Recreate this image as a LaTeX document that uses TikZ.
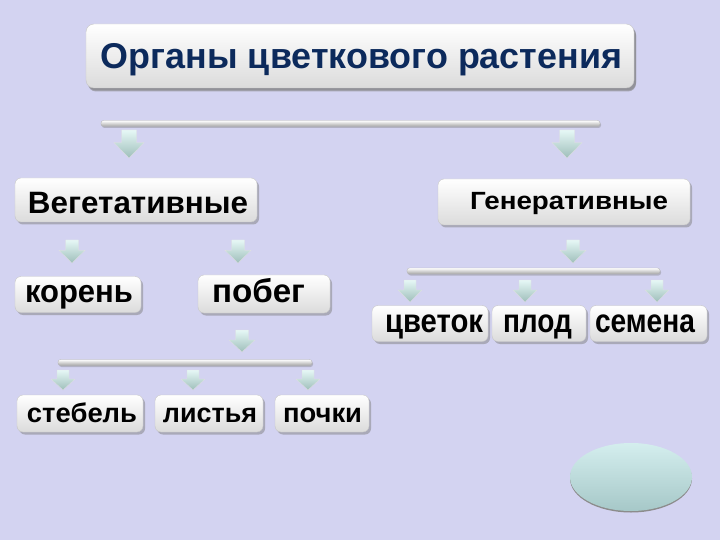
\documentclass[tikz,border=0pt]{standalone}
\usepackage{graphicx}
\usepackage{fontspec}
\setmainfont{Liberation Sans}
\usetikzlibrary{shadows}
\definecolor{bg}{RGB}{211,211,241}
\definecolor{navy}{RGB}{12,42,92}
\definecolor{arT}{RGB}{230,248,246}
\definecolor{arB}{RGB}{158,190,186}
\definecolor{elT}{RGB}{212,238,238}
\definecolor{elB}{RGB}{166,200,200}
\newcommand\fitw[2]{\resizebox{#1}{\height}{#2}}
\newcommand\dnarr[4]{%
  \path[arrowsty] ({#1-#4/2},#2) -- ({#1+#4/2},#2) -- ({#1+#4/2},{#2+(#3-#2)*0.45})
   -- ({#1+#4},{#2+(#3-#2)*0.45}) -- (#1,#3) -- ({#1-#4},{#2+(#3-#2)*0.45})
   -- ({#1-#4/2},{#2+(#3-#2)*0.45}) -- cycle;}
\begin{document}
\begin{tikzpicture}[x=1bp,y=-1bp,
  box/.style={rounded corners=6bp, draw=black!22, line width=0.4bp,
    top color=white, bottom color=black!14, inner sep=0pt,
    drop shadow={shadow xshift=2bp, shadow yshift=-2.5bp, opacity=0.5}},
  lbl/.style={anchor=base, inner sep=0pt, font=\bfseries},
  barsty/.style={rounded corners=2.5bp, draw=black!30, line width=0.3bp,
    top color=white, bottom color=black!35, inner sep=0pt, minimum height=6bp,
    drop shadow={shadow xshift=1bp, shadow yshift=-1.5bp, opacity=0.4}},
  arrowsty/.style={top color=arT, bottom color=arB, draw=black!12, line width=0.3bp}]
\useasboundingbox[fill=bg] (0,0) rectangle (720,540);

% boxes
\node[box, rounded corners=8bp, minimum width=548bp, minimum height=64bp,
  drop shadow={shadow xshift=2bp, shadow yshift=-3.5bp, opacity=0.55}]
  (title) at (360,56) {};
\node[box, minimum width=242bp, minimum height=44bp] (veg) at (136,200) {};
\node[box, minimum width=252bp, minimum height=46bp] (gen) at (564,202) {};
\node[box, minimum width=126bp, minimum height=36bp] (koren) at (78,294.5) {};
\node[box, minimum width=132bp, minimum height=38bp] (pobeg) at (264,294) {};
\node[box, minimum width=116bp, minimum height=36bp] (cvetok) at (430,323.5) {};
\node[box, minimum width=94bp, minimum height=36bp] (plod) at (539,323.5) {};
\node[box, minimum width=117bp, minimum height=36bp] (semena) at (648.5,323.5) {};
\node[box, minimum width=126bp, minimum height=37bp] (stebel) at (80,413.5) {};
\node[box, minimum width=108bp, minimum height=37bp] (listya) at (209,413.5) {};
\node[box, minimum width=94bp, minimum height=37bp] (pochki) at (322,413.5) {};

% labels
\node[lbl, font=\bfseries\fontsize{36}{40}\selectfont, text=navy] (titleT) at (361.5,69) {\fitw{521bp}{Органы цветкового растения}};
\node[lbl, font=\bfseries\fontsize{31}{34}\selectfont] (vegT) at (138,214) {\fitw{220bp}{Вегетативные}};
\node[lbl, font=\bfseries\fontsize{25}{28}\selectfont] (genT) at (569,210) {\fitw{198bp}{Генеративные}};
\node[lbl, font=\bfseries\fontsize{32}{36}\selectfont] (korenT) at (79,302) {\fitw{108bp}{корень}};
\node[lbl, font=\bfseries\fontsize{33}{36}\selectfont] (pobegT) at (258.5,302) {\fitw{93bp}{побег}};
\node[lbl, font=\bfseries\fontsize{33}{36}\selectfont] (cvetokT) at (434,332) {\fitw{98bp}{цветок}};
\node[lbl, font=\bfseries\fontsize{33}{36}\selectfont] (plodT) at (537.5,332) {\fitw{69bp}{плод}};
\node[lbl, font=\bfseries\fontsize{33}{36}\selectfont] (semenaT) at (645,332) {\fitw{100bp}{семена}};
\node[lbl, font=\bfseries\fontsize{27}{30}\selectfont] (stebelT) at (82,422) {\fitw{110bp}{стебель}};
\node[lbl, font=\bfseries\fontsize{27}{30}\selectfont] (listyaT) at (210,422) {\fitw{94bp}{листья}};
\node[lbl, font=\bfseries\fontsize{27}{30}\selectfont] (pochkiT) at (322.5,422) {\fitw{79bp}{почки}};

% bars
\node[barsty, minimum width=499bp] (bar1) at (350.5,123.5) {};
\node[barsty, minimum width=253bp] (bar2) at (533.5,271) {};
\node[barsty, minimum width=254bp] (bar3) at (185,362.5) {};

% arrows
\dnarr{129}{130}{158}{15}
\dnarr{567}{130}{158}{15}
\dnarr{72}{240}{263}{13}
\dnarr{238}{240}{263}{13}
\dnarr{573}{240}{263}{13}
\dnarr{410}{280}{302}{12}
\dnarr{525}{280}{302}{12}
\dnarr{657}{280}{302}{12}
\dnarr{242}{330}{352}{13}
\dnarr{63}{370}{390}{12}
\dnarr{193}{370}{390}{12}
\dnarr{308}{370}{390}{12}

% ellipse
\fill[black!45] (631,478.5) ellipse (61bp and 34bp);
\path[top color=elT, bottom color=elB] (631,477) ellipse (61bp and 34bp);
\end{tikzpicture}
\end{document}
